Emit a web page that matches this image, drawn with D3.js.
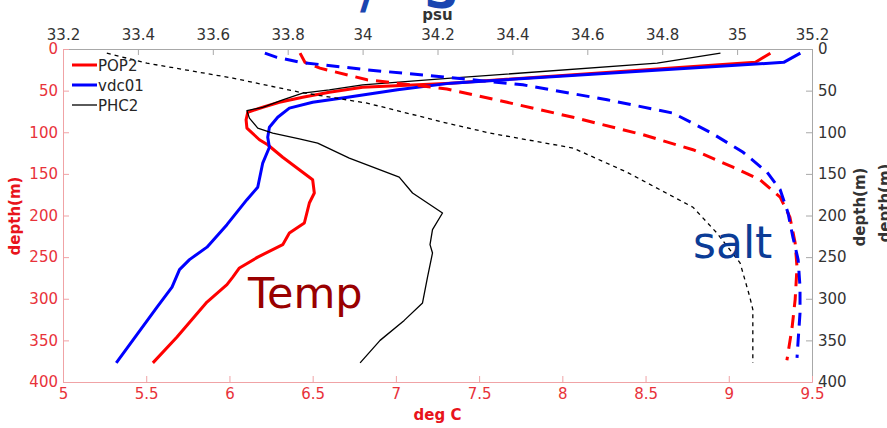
<!DOCTYPE html>
<html>
<head>
<meta charset="utf-8">
<script src="https://cdn.jsdelivr.net/npm/d3@7"></script>
<style>
  body { margin: 0; background: #fff; }
  svg { display: block; font-family: "DejaVu Sans", sans-serif; }
</style>
</head>
<body>
<div id="main"></div>
<script>
// tick values
const tempTicks = [5, 5.5, 6, 6.5, 7, 7.5, 8, 8.5, 9, 9.5];
const saltTicks = [33.2, 33.4, 33.6, 33.8, 34, 34.2, 34.4, 34.6, 34.8, 35, 35.2];
const depthTicks = [0, 50, 100, 150, 200, 250, 300, 350, 400];

// legend entries
const models = ["POP2", "vdc01", "PHC2"];

// temperature profiles (deg C) vs depth (m)
const popTempDepth = [5, 16, 41, 46, 52, 58, 64, 70, 76, 85, 95, 109, 115, 130, 145, 157, 173, 185, 209, 221, 235, 250, 263, 274, 283, 304, 346, 377];
const popTemp = [9.25, 9.16, 7.33, 6.80, 6.60, 6.44, 6.30, 6.20, 6.11, 6.10, 6.105, 6.18, 6.23, 6.32, 6.42, 6.50, 6.51, 6.48, 6.45, 6.36, 6.32, 6.17, 6.06, 6.02, 5.985, 5.865, 5.685, 5.54];

const vdcTempDepth = [5, 16, 41, 49, 58, 64, 71, 82, 94, 106, 118, 137, 166, 181, 211, 238, 253, 265, 286, 310, 377];
const vdcTemp = [9.43, 9.33, 7.33, 7.01, 6.71, 6.50, 6.36, 6.29, 6.24, 6.23, 6.24, 6.20, 6.17, 6.105, 5.985, 5.865, 5.76, 5.70, 5.655, 5.565, 5.32];

const phcTempDepth = [5, 17, 35, 43, 49, 53, 61, 70, 74, 83, 95, 101, 108, 113, 131, 154, 173, 197, 217, 235, 245, 274, 305, 326, 350, 377];
const phcTemp = [8.95, 8.57, 7.33, 6.80, 6.60, 6.44, 6.32, 6.20, 6.105, 6.12, 6.17, 6.26, 6.42, 6.53, 6.72, 7.02, 7.10, 7.28, 7.22, 7.205, 7.22, 7.19, 7.16, 7.05, 6.905, 6.785];

// salinity profiles (psu) vs depth (m)
const popSaltDepth = [5, 16, 23, 37, 48, 64, 82, 103, 121, 142, 157, 178, 202, 233, 262, 301, 334, 374];
const popSalt = [33.833, 33.846, 33.886, 34.012, 34.225, 34.386, 34.562, 34.749, 34.882, 34.989, 35.061, 35.115, 35.141, 35.155, 35.16, 35.155, 35.147, 35.133];

const vdcSaltDepth = [5, 10, 16, 25, 34, 43, 61, 77, 100, 124, 148, 169, 197, 226, 253, 286, 317, 350, 371];
const vdcSalt = [33.739, 33.771, 33.833, 34.012, 34.225, 34.428, 34.653, 34.829, 34.928, 35.016, 35.08, 35.115, 35.136, 35.149, 35.163, 35.168, 35.168, 35.163, 35.16];

const phcSaltDepth = [5, 17, 35, 52, 65, 89, 101, 119, 148, 190, 221, 257, 298, 313, 377];
const phcSalt = [33.317, 33.424, 33.654, 33.833, 34.012, 34.225, 34.34, 34.562, 34.706, 34.882, 34.946, 35.008, 35.034, 35.042, 35.042];

const w = 887, h = 428;
const plot = { left: 63, right: 812, top: 49, bottom: 382 };

const svg = d3.select("#main").append("svg")
  .attr("width", w)
  .attr("height", h);

const xT = d3.scaleLinear().domain([5, 9.5]).range([plot.left, plot.right]);
const xS = d3.scaleLinear().domain([33.2, 35.2]).range([plot.left, plot.right]);
const y = d3.scaleLinear().domain([0, 400]).range([plot.top, plot.bottom]);

const redAxis = "#f0a3a6", redText = "#e8323a", grayAxis = "#a8a8a8", grayText = "#333";

function styleAxis(g, lineCol, textCol) {
  g.select(".domain").attr("stroke", lineCol);
  g.selectAll(".tick line").attr("stroke", lineCol);
  g.selectAll(".tick text").attr("fill", textCol)
    .attr("font-size", 15).attr("font-family", "DejaVu Sans, sans-serif");
}

// top and right (salinity / depth) axes
svg.append("g")
  .attr("transform", `translate(0,${plot.top})`)
  .call(d3.axisTop(xS).tickValues(saltTicks).tickFormat(d => d).tickSizeInner(-6).tickSizeOuter(0).tickPadding(9))
  .call(g => styleAxis(g, grayAxis, grayText));

svg.append("g")
  .attr("transform", `translate(${plot.right},0)`)
  .call(d3.axisRight(y).tickValues(depthTicks).tickFormat(d => d).tickSizeInner(-6).tickSizeOuter(0).tickPadding(6))
  .call(g => styleAxis(g, grayAxis, grayText));

// bottom and left (temperature / depth) axes
svg.append("g")
  .attr("transform", `translate(0,${plot.bottom})`)
  .call(d3.axisBottom(xT).tickValues(tempTicks).tickFormat(d => d).tickSizeInner(-6).tickSizeOuter(0).tickPadding(6))
  .call(g => styleAxis(g, redAxis, redText));

svg.append("g")
  .attr("transform", `translate(${plot.left},0)`)
  .call(d3.axisLeft(y).tickValues(depthTicks).tickFormat(d => d).tickSizeInner(-6).tickSizeOuter(0).tickPadding(5))
  .call(g => styleAxis(g, redAxis, redText));

// axis titles
svg.append("text")
  .attr("x", (plot.left + plot.right) / 2).attr("y", 420)
  .attr("text-anchor", "middle").attr("font-size", 15).attr("font-weight", "bold")
  .attr("fill", "#e8141c").text("deg C");

svg.append("text")
  .attr("x", (plot.left + plot.right) / 2).attr("y", 20)
  .attr("text-anchor", "middle").attr("font-size", 15).attr("font-weight", "bold")
  .attr("fill", "#333").text("psu");

svg.append("text")
  .attr("transform", "translate(20,216) rotate(-90)")
  .attr("text-anchor", "middle").attr("font-size", 15).attr("font-weight", "bold")
  .attr("fill", "#e8141c").text("depth(m)");

svg.append("text")
  .attr("transform", "translate(865,207) rotate(-90)")
  .attr("text-anchor", "middle").attr("font-size", 15).attr("font-weight", "bold")
  .attr("fill", "#333").text("depth(m)");

svg.append("text")
  .attr("transform", "translate(890,203) rotate(-90)")
  .attr("text-anchor", "middle").attr("font-size", 15).attr("font-weight", "bold")
  .attr("fill", "#333").text("depth(m)");

// profiles
const tempLine = d3.line().x(d => xT(d[1])).y(d => y(d[0]));
const saltLine = d3.line().x(d => xS(d[1])).y(d => y(d[0]));
const pair = (ds, vs) => ds.map((d, i) => [d, vs[i]]);

const temps = [
  { data: pair(popTempDepth, popTemp), color: "#ff0000", width: 3 },
  { data: pair(vdcTempDepth, vdcTemp), color: "#0000ff", width: 3 },
  { data: pair(phcTempDepth, phcTemp), color: "#000", width: 1.3 }
];
const salts = [
  { data: pair(popSaltDepth, popSalt), color: "#ff0000", width: 3, dash: "13,8" },
  { data: pair(vdcSaltDepth, vdcSalt), color: "#0000ff", width: 3, dash: "13,8" },
  { data: pair(phcSaltDepth, phcSalt), color: "#000", width: 1.3, dash: "4,4" }
];

svg.append("g").selectAll("path")
  .data(temps)
  .join("path")
  .attr("d", d => tempLine(d.data))
  .attr("fill", "none")
  .attr("stroke", d => d.color)
  .attr("stroke-width", d => d.width)
  .attr("stroke-linejoin", "round");

svg.append("g").selectAll("path")
  .data(salts)
  .join("path")
  .attr("d", d => saltLine(d.data))
  .attr("fill", "none")
  .attr("stroke", d => d.color)
  .attr("stroke-width", d => d.width)
  .attr("stroke-dasharray", d => d.dash);

// legend
const legend = svg.append("g").selectAll("g")
  .data(models)
  .join("g")
  .attr("transform", (d, i) => `translate(72,${65 + i * 20})`);

legend.append("line")
  .attr("x1", 0).attr("x2", 25)
  .attr("stroke", (d, i) => temps[i].color)
  .attr("stroke-width", (d, i) => temps[i].width);

legend.append("text")
  .attr("x", 26).attr("y", 5.5)
  .attr("font-size", 15).attr("fill", "#262626")
  .text(d => d);

// hand-written notes
svg.append("text")
  .attr("x", 248).attr("y", 308)
  .attr("font-family", "'Comic Sans MS', 'DejaVu Sans', sans-serif")
  .attr("font-size", 43).attr("fill", "#990000")
  .text("Temp");

svg.append("text")
  .attr("x", 693).attr("y", 258)
  .attr("font-family", "'Comic Sans MS', 'DejaVu Sans', sans-serif")
  .attr("font-size", 44).attr("fill", "#0b3c96")
  .text("salt");

// title cut off by the top edge: only the bottom of the glyphs shows
const ts = svg.append("text")
  .attr("y", 8)
  .attr("font-family", "'Comic Sans MS', 'DejaVu Sans', sans-serif")
  .attr("font-size", 48).attr("font-weight", "bold").attr("fill", "#1a45b0");
ts.append("tspan").attr("x", 360).text("/");
ts.append("tspan").attr("x", 424).text("S");
</script>
</body>
</html>
